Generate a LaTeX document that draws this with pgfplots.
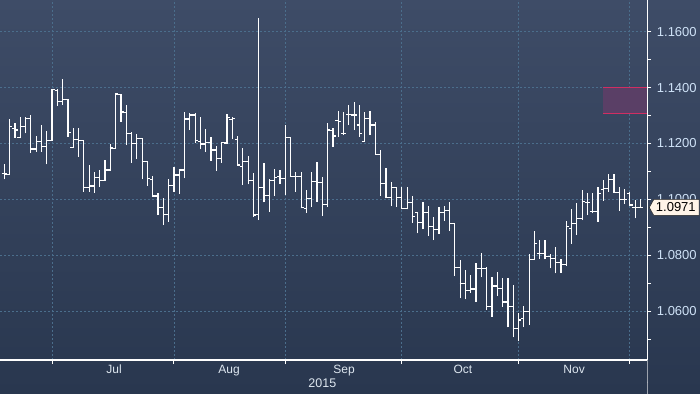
\documentclass[border=0pt]{standalone}
\usepackage{pgfplots}
\pgfplotsset{compat=1.18}
\usepackage{pgfplotstable}
\usepackage{fontspec}
\setmainfont{Liberation Sans}
\definecolor{bgtop}{HTML}{3E4C67}
\definecolor{bgmid}{HTML}{34425E}
\definecolor{bgbot}{HTML}{29374F}
\definecolor{gridc}{HTML}{4B6E8C}
\definecolor{labc}{HTML}{CFE2F7}
\definecolor{monc}{HTML}{DDE6EF}
\definecolor{boxfill}{HTML}{5A3F66}
\definecolor{boxline}{HTML}{D02E62}
\definecolor{tagfill}{HTML}{FFF4E8}
\definecolor{barc}{HTML}{FFFFFF}
\pgfdeclareplotmark{otick}{\pgfpathmoveto{\pgfqpoint{-2.8pt}{0pt}}\pgfpathlineto{\pgfqpoint{0.6pt}{0pt}}\pgfusepathqstroke}
\pgfdeclareplotmark{ctick}{\pgfpathmoveto{\pgfqpoint{-0.6pt}{0pt}}\pgfpathlineto{\pgfqpoint{2.8pt}{0pt}}\pgfusepathqstroke}
\pgfplotstableread{
x o h l c
0 1.1093 1.1125 1.1072 1.1091
1 1.1088 1.1286 1.1086 1.1260
2 1.1255 1.1272 1.1221 1.1248
3 1.1221 1.1296 1.1218 1.1260
4 1.1260 1.1295 1.1236 1.1290
5 1.1290 1.1302 1.1167 1.1180
6 1.1180 1.1227 1.1170 1.1206
7 1.1206 1.1266 1.1170 1.1188
8 1.1188 1.1245 1.1125 1.1211
9 1.1211 1.1394 1.1210 1.1394
10 1.1391 1.1394 1.1335 1.1349
11 1.1349 1.1431 1.1339 1.1358
12 1.1358 1.1358 1.1224 1.1240
13 1.1186 1.1254 1.1186 1.1215
14 1.1215 1.1254 1.1153 1.1210
15 1.1210 1.1210 1.1027 1.1043
16 1.1043 1.1123 1.1027 1.1048
17 1.1048 1.1099 1.1024 1.1079
18 1.1079 1.1105 1.1045 1.1069
19 1.1069 1.1141 1.1069 1.1105
20 1.1105 1.1198 1.1105 1.1184
21 1.1183 1.1377 1.1183 1.1377
22 1.1375 1.1377 1.1278 1.1313
23 1.1312 1.1338 1.1194 1.1236
24 1.1236 1.1240 1.1131 1.1201
25 1.1201 1.1234 1.1144 1.1218
26 1.1218 1.1218 1.1072 1.1135
27 1.1135 1.1135 1.1049 1.1075
28 1.1072 1.1083 1.1012 1.1012
29 1.1012 1.1022 1.0944 1.0971
30 1.0971 1.1004 1.0908 1.0947
31 1.0947 1.1072 1.0920 1.1051
32 1.1051 1.1115 1.1027 1.1087
33 1.1087 1.1105 1.1019 1.1105
34 1.1105 1.1314 1.1075 1.1288
35 1.1288 1.1308 1.1248 1.1302
36 1.1302 1.1310 1.1201 1.1212
37 1.1206 1.1294 1.1179 1.1198
38 1.1198 1.1251 1.1170 1.1204
39 1.1204 1.1224 1.1138 1.1177
40 1.1177 1.1191 1.1102 1.1147
41 1.1147 1.1206 1.1131 1.1203
42 1.1202 1.1305 1.1201 1.1294
43 1.1286 1.1296 1.1215 1.1290
44 1.1215 1.1227 1.1120 1.1123
45 1.1119 1.1183 1.1051 1.1135
46 1.1135 1.1155 1.1054 1.1069
47 1.1069 1.1093 1.0938 1.0944
48 1.0947 1.1648 1.0926 1.1042
49 1.1043 1.1129 1.0989 1.1015
50 1.1015 1.1072 1.0956 1.1069
51 1.1069 1.1107 1.1012 1.1079
52 1.1083 1.1105 1.1055 1.1076
53 1.1075 1.1266 1.1015 1.1222
54 1.1222 1.1222 1.1083 1.1083
55 1.1083 1.1099 1.1027 1.1083
56 1.1083 1.1099 1.0968 1.0971
57 1.0968 1.1033 1.0952 1.1004
58 1.1004 1.1099 1.0974 1.1063
59 1.1063 1.1135 1.0991 1.1059
60 1.1059 1.1079 1.0940 1.0983
61 1.0983 1.1272 1.0974 1.1248
62 1.1246 1.1254 1.1188 1.1227
63 1.1281 1.1317 1.1224 1.1278
64 1.1236 1.1314 1.1230 1.1236
65 1.1305 1.1338 1.1266 1.1305
66 1.1302 1.1349 1.1248 1.1302
67 1.1266 1.1338 1.1224 1.1236
68 1.1206 1.1314 1.1206 1.1290
69 1.1290 1.1317 1.1230 1.1266
70 1.1266 1.1278 1.1162 1.1162
71 1.1162 1.1177 1.1012 1.1057
72 1.1057 1.1111 1.1004 1.1007
73 1.1007 1.1063 1.0976 1.1043
74 1.1043 1.1043 1.0974 1.1007
75 1.1007 1.1043 1.0964 1.0968
76 1.0968 1.1043 1.0964 1.0988
77 1.0988 1.1012 1.0916 1.0938
78 1.0952 1.0952 1.0878 1.0916
79 1.0916 1.0989 1.0893 1.0954
80 1.0954 1.0976 1.0870 1.0904
81 1.0904 1.0938 1.0854 1.0893
82 1.0893 1.0974 1.0876 1.0952
83 1.0952 1.0976 1.0923 1.0959
84 1.0959 1.0989 1.0888 1.0914
85 1.0914 1.0914 1.0725 1.0757
86 1.0757 1.0783 1.0646 1.0699
87 1.0699 1.0749 1.0642 1.0673
88 1.0673 1.0729 1.0666 1.0679
89 1.0679 1.0771 1.0633 1.0753
90 1.0753 1.0807 1.0721 1.0753
91 1.0753 1.0759 1.0604 1.0616
92 1.0616 1.0723 1.0580 1.0690
93 1.0690 1.0741 1.0654 1.0681
94 1.0681 1.0717 1.0616 1.0633
95 1.0633 1.0717 1.0542 1.0618
96 1.0618 1.0693 1.0506 1.0538
97 1.0539 1.0593 1.0493 1.0568
98 1.0575 1.0619 1.0543 1.0598
99 1.0598 1.0803 1.0550 1.0785
100 1.0785 1.0888 1.0783 1.0843
101 1.0807 1.0854 1.0787 1.0807
102 1.0807 1.0854 1.0785 1.0797
103 1.0797 1.0803 1.0753 1.0789
104 1.0789 1.0828 1.0735 1.0775
105 1.0775 1.0785 1.0737 1.0767
106 1.0767 1.0922 1.0761 1.0904
107 1.0896 1.0964 1.0842 1.0914
108 1.0914 1.0986 1.0872 1.0932
109 1.0932 1.1033 1.0926 1.0991
110 1.0988 1.1024 1.0944 1.0988
111 1.0956 1.1024 1.0950 1.0956
112 1.0956 1.1045 1.0920 1.1022
113 1.1036 1.1069 1.0995 1.1039
114 1.1039 1.1091 1.1027 1.1072
115 1.1072 1.1091 1.1025 1.1025
116 1.1025 1.1045 1.0959 1.1000
117 1.1000 1.1036 1.0983 1.1000
118 1.1022 1.1027 1.0980 1.0980
119 1.0971 1.0998 1.0932 1.0971
120 1.0971 1.1000 1.0971 1.0971
}\ohlc
\begin{document}
\begin{tikzpicture}
\useasboundingbox (0,0) rectangle (700pt,393pt);
\shade[top color=bgtop, middle color=bgmid, bottom color=bgbot] (0,0) rectangle (700pt,393pt);
\begin{axis}[
  at={(0pt,33pt)}, anchor=south west,
  scale only axis, width=647.3pt, height=360pt,
  xmin=-0.817, xmax=121.3, ymin=1.0425, ymax=1.17135,
  axis x line*=bottom, axis y line*=right,
  axis line style={white, line width=1.2pt},
  clip=false,
  xtick={9,32,53,75,97,118}, xticklabels={},
  extra x ticks={20.7,42.4,64.1,86.5,107.5},
  extra x tick labels={Jul,Aug,Sep,Oct,Nov},
  extra x tick style={grid=none, major tick length=0pt,
     xticklabel style={text=monc, font=\fontsize{12}{12}\selectfont, inner sep=0pt, yshift=-5pt}},
  ytick={1.06,1.08,1.10,1.12,1.14,1.16},
  minor ytick={1.05,1.07,1.09,1.11,1.13,1.15},
  tick align=outside, major tick length=4pt, minor tick length=3.5pt,
  tick style={white, line width=1pt},
  grid=major,
  major grid style={gridc, dash pattern=on 2pt off 2pt, line width=0.8pt},
  minor grid style={draw=none},
  yticklabel style={text=labc, font=\fontsize{13}{13}\selectfont, anchor=west, inner sep=0pt, xshift=5.4pt},
  /pgf/number format/.cd, fixed, fixed zerofill, precision=4, assume math mode=true,
]
\fill[boxfill] (axis cs:113,1.1308) rectangle (axis cs:121.3,1.14);
\draw[boxline, line width=1pt] (axis cs:113,1.14) -- (axis cs:121.3,1.14);
\draw[boxline, line width=1pt] (axis cs:113,1.1308) -- (axis cs:121.3,1.1308);
\addplot[draw=none, mark=none, forget plot,
  error bars/.cd, y dir=plus, y explicit, error mark=none,
  error bar style={draw=barc, solid, line width=1.2pt}]
  table[x=x, y=l, y error expr=\thisrow{h}-\thisrow{l}] {\ohlc};
\addplot[only marks, mark=otick, mark options={barc, line width=1.2pt}] table[x=x, y=o] {\ohlc};
\addplot[only marks, mark=ctick, mark options={barc, line width=1.2pt}] table[x=x, y=c] {\ohlc};
\pgfplotsinvokeforeach{1.06,1.08,1.10,1.12,1.14,1.16}{
  \fill[white] (axis cs:121.3,#1) -- ++(0,2pt) -- ++(8pt,-2pt) -- ++(-8pt,-2pt) -- cycle;
}
\coordinate (tag) at (axis cs:121.3,1.0971);
\coordinate (yr) at (axis cs:60,1.0425);
\end{axis}
\draw[fill=tagfill, draw=black!85, line width=0.5pt] ([xshift=2pt]tag) -- ++(4.5pt,8pt) -- ++(45.3pt,0) -- ++(0,-16pt) -- ++(-45.3pt,0) -- cycle;
\node[text=black, font=\fontsize{13}{13}\selectfont, inner sep=0pt] at ([xshift=28.5pt]tag) {1.0971};
\node[text=monc, font=\fontsize{12.5}{12.5}\selectfont, inner sep=0pt, anchor=north] at ([yshift=-19pt]yr) {2015};
\end{tikzpicture}
\end{document}
